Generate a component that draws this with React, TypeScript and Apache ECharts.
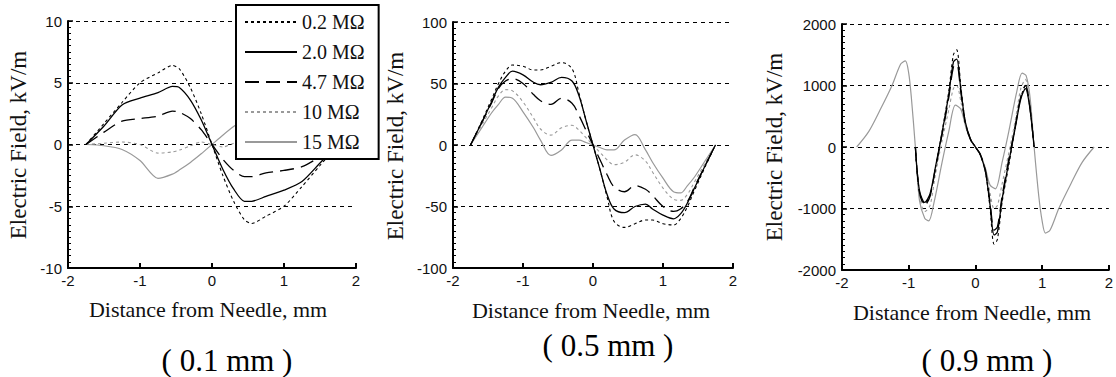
import React, { useEffect, useRef } from "react";
import * as echarts from "echarts";

// ---------- Panel 1: 0.1 mm ----------
const X1 = [-1.75, -1.5, -1.25, -1.0, -0.75, -0.55, -0.45, -0.3, -0.15, 0, 0.15, 0.3, 0.45, 0.55, 0.75, 1.0, 1.25, 1.5, 1.75];
const P1_R02 = [0, 1.7, 3.4, 5.0, 5.8, 6.4, 6.1, 4.6, 2.5, 0, -2.5, -4.6, -6.1, -6.4, -5.8, -5.0, -3.4, -1.7, 0];
const P1_R20 = [0, 1.5, 3.2, 3.75, 4.2, 4.7, 4.6, 3.6, 2.0, 0, -2.0, -3.6, -4.6, -4.6, -4.2, -3.7, -3.0, -1.5, 0];
const P1_R47 = [0, 1.0, 1.9, 2.1, 2.3, 2.7, 2.6, 2.1, 1.2, 0, -1.2, -2.1, -2.6, -2.6, -2.3, -2.1, -1.8, -1.0, 0];
const P1_R10 = [0, 0.1, 0.2, 0.0, -0.7, -0.6, -0.45, -0.1, 0.2, 0, -0.2, 0.1, 0.45, 0.6, 0.7, 0.0, -0.2, -0.1, 0];
const P1_R15 = [0, -0.1, -0.4, -1.3, -2.75, -2.4, -2.05, -1.45, -0.75, 0, 0.75, 1.45, 2.05, 2.4, 2.75, 1.3, 0.4, 0.1, 0];

// ---------- Panel 2: 0.5 mm ----------
const X2 = [-1.75, -1.6, -1.45, -1.35, -1.25, -1.15, -1.0, -0.85, -0.75, -0.6, -0.45, -0.3, -0.2, -0.1, 0, 0.1, 0.2, 0.3, 0.45, 0.6, 0.75, 0.85, 1.0, 1.15, 1.25, 1.35, 1.45, 1.6, 1.75];
const P2_R02 = [0, 18, 37, 50, 60, 65, 64, 61, 61, 64, 67, 62, 42, 20, 0, -20, -42, -62, -67, -64, -61, -61, -64, -65, -60, -50, -37, -18, 0];
const P2_R20 = [0, 17, 35, 47, 55, 60, 57, 51, 49, 51, 55, 52, 40, 20, 0, -20, -40, -52, -55, -50, -48, -52, -57, -60, -56, -47, -35, -17, 0];
const P2_R47 = [0, 17, 34, 46, 52, 54, 50, 41, 36, 33, 38, 34, 24, 12, 0, -12, -24, -34, -38, -33, -36, -41, -50, -54, -52, -46, -34, -17, 0];
const P2_R10 = [0, 15, 30, 40, 45, 44, 35, 22, 13, 8, 14, 16, 12, 6, 0, -6, -12, -16, -14, -8, -13, -22, -35, -44, -45, -40, -30, -15, 0];
const P2_R15 = [0, 13, 26, 33, 39, 38, 27, 14, 4, -8.5, -4, 4, 4, 2, 0, -2, -4, -4, 4, 8.5, -4, -14, -27, -38, -39, -33, -26, -13, 0];

// ---------- Panel 3: 0.9 mm ----------
const X3 = [-0.9, -0.84, -0.76, -0.68, -0.6, -0.5, -0.4, -0.33, -0.28, -0.22, -0.15, -0.07, 0, 0.07, 0.15, 0.22, 0.28, 0.33, 0.4, 0.5, 0.6, 0.68, 0.75, 0.81, 0.88];
const P3_R02 = [0, -720, -920, -780, -350, 250, 900, 1500, 1580, 1000, 400, 120, 0, -120, -400, -1000, -1580, -1500, -900, -300, 350, 800, 1000, 700, 0];
const P3_R20 = [0, -700, -900, -760, -330, 230, 850, 1380, 1430, 950, 400, 120, 0, -120, -400, -950, -1430, -1380, -850, -250, 330, 780, 950, 680, 0];
const P3_R47 = [0, -730, -950, -800, -350, 200, 800, 1300, 1350, 900, 380, 110, 0, -110, -380, -900, -1350, -1300, -800, -200, 350, 820, 1000, 700, 0];
const P3_R10 = [0, -780, -1050, -950, -450, 100, 600, 950, 1000, 750, 350, 110, 0, -110, -350, -750, -1000, -950, -600, -100, 450, 950, 1100, 760, 0];
const X3G = [-1.78, -1.6, -1.43, -1.25, -1.12, -1.05, -1.0, -0.96, -0.9, -0.84, -0.76, -0.7, -0.62, -0.5, -0.4, -0.3, -0.22, -0.15, -0.07, 0, 0.07, 0.15, 0.22, 0.3, 0.4, 0.5, 0.62, 0.7, 0.76, 0.82, 0.88, 0.95, 1.0, 1.05, 1.12, 1.25, 1.43, 1.6, 1.78];
const P3_R15 = [0, 250, 600, 1000, 1350, 1400, 1200, 800, 0, -860, -1160, -1200, -900, -250, 250, 680, 620, 350, 110, 0, -110, -350, -620, -680, -250, 250, 900, 1200, 1160, 800, 0, -800, -1200, -1400, -1350, -1000, -600, -250, 0];

const NAMES = ["0.2 MΩ", "2.0 MΩ", "4.7 MΩ", "10 MΩ", "15 MΩ"];
const Y_RANGES = [
  { min: -10, max: 10, interval: 5 },
  { min: -100, max: 100, interval: 50 },
  { min: -2000, max: 2000, interval: 1000 },
];
const CAPTIONS = ["( 0.1 mm )", "( 0.5 mm )", "( 0.9 mm )"];
const X_TITLE = "Distance from Needle, mm";
const Y_TITLE = "Electric Field, kV/m";

const STYLES: Record<string, any> = {
  "0.2 MΩ": { color: "#000", width: 1.1, type: [3, 3] },
  "2.0 MΩ": { color: "#000", width: 1.3, type: "solid" },
  "4.7 MΩ": { color: "#000", width: 1.3, type: [14, 7] },
  "10 MΩ": { color: "#9a9a9a", width: 1.1, type: [3, 3] },
  "15 MΩ": { color: "#999", width: 1.2, type: "solid" },
};

const pair = (xs: number[], ys: number[]) => xs.map((x, i) => [x, ys[i]]);

const PANELS = [
  { data: { "0.2 MΩ": pair(X1, P1_R02), "2.0 MΩ": pair(X1, P1_R20), "4.7 MΩ": pair(X1, P1_R47), "10 MΩ": pair(X1, P1_R10), "15 MΩ": pair(X1, P1_R15) }, smooth: 0.25 },
  { data: { "0.2 MΩ": pair(X2, P2_R02), "2.0 MΩ": pair(X2, P2_R20), "4.7 MΩ": pair(X2, P2_R47), "10 MΩ": pair(X2, P2_R10), "15 MΩ": pair(X2, P2_R15) }, smooth: 0.35 },
  { data: { "0.2 MΩ": pair(X3, P3_R02), "2.0 MΩ": pair(X3, P3_R20), "4.7 MΩ": pair(X3, P3_R47), "10 MΩ": pair(X3, P3_R10), "15 MΩ": pair(X3G, P3_R15) }, smooth: 0.3 },
];

const GRIDS = [
  { left: 68, top: 21, width: 288, height: 247 },
  { left: 453, top: 22, width: 280, height: 246 },
  { left: 842, top: 24, width: 269, height: 246 },
];

const TITLE_POS = [
  { xName: [208, 309], yName: [18, 145], cap: [227, 360] },
  { xName: [591, 310], yName: [395, 146], cap: [608, 345] },
  { xName: [972, 312], yName: [774, 147], cap: [987, 360] },
];

const TICK_COLOR = "#000";

export default function App() {
  const ref = useRef<HTMLDivElement>(null);
  useEffect(() => {
    document.body.style.margin = "0";
    const chart = echarts.init(ref.current!, null, { renderer: "svg" });
    const drawOrder = ["15 MΩ", "10 MΩ", "4.7 MΩ", "2.0 MΩ", "0.2 MΩ"];
    const series: any[] = [];
    PANELS.forEach((p, pi) => {
      drawOrder.forEach((n) => {
        series.push({
          type: "line",
          name: n,
          xAxisIndex: pi,
          yAxisIndex: pi,
          data: (p.data as any)[n],
          showSymbol: false,
          symbol: "none",
          smooth: p.smooth,
          lineStyle: STYLES[n],
          itemStyle: { color: STYLES[n].color },
          z: 2,
        });
      });
    });
    const labelStyle = { fontFamily: "Liberation Sans", fontSize: 15, color: "#111", formatter: (v: number) => String(v) };
    const graphic: any[] = [];
    TITLE_POS.forEach((t, i) => {
      graphic.push({
        type: "text", x: t.xName[0], y: t.xName[1],
        style: { text: X_TITLE, fontFamily: "Liberation Serif", fontSize: 22, fill: "#111", align: "center", verticalAlign: "middle" },
      });
      graphic.push({
        type: "text", x: t.yName[0], y: t.yName[1], rotation: Math.PI / 2,
        style: { text: Y_TITLE, fontFamily: "Liberation Serif", fontSize: 23, fill: "#111", align: "center", verticalAlign: "middle" },
      });
      graphic.push({
        type: "text", x: t.cap[0], y: t.cap[1],
        style: { text: CAPTIONS[i], fontFamily: "Liberation Serif", fontSize: 31, fill: "#000", align: "center", verticalAlign: "middle" },
      });
    });
    chart.setOption({
      animation: false,
      backgroundColor: "#fff",
      grid: GRIDS.map((g) => ({ ...g })),
      legend: {
        data: NAMES,
        orient: "vertical",
        left: 236,
        top: 5,
        itemWidth: 52,
        itemHeight: 20,
        itemGap: 10,
        padding: [7, 14, 7, 8],
        backgroundColor: "#fff",
        borderColor: "#000",
        borderWidth: 2,
        borderRadius: 0,
        itemStyle: { opacity: 0 },
        textStyle: { fontFamily: "Liberation Serif", fontSize: 20, color: "#111" },
        selectedMode: false,
        z: 10,
      },
      xAxis: GRIDS.map((_, i) => ({
        gridIndex: i,
        type: "value",
        min: -2,
        max: 2,
        interval: 1,
        axisLine: { show: true, onZero: false, lineStyle: { color: "#000", width: 2 } },
        axisTick: { show: true, inside: true, length: 5, lineStyle: { color: TICK_COLOR, width: 2 } },
        axisLabel: { ...labelStyle, margin: 5 },
        splitLine: { show: false },
      })),
      yAxis: Y_RANGES.map((r, i) => ({
        gridIndex: i,
        type: "value",
        min: r.min,
        max: r.max,
        interval: r.interval,
        axisLine: { show: true, onZero: false, lineStyle: { color: "#000", width: 2 } },
        axisTick: { show: true, inside: true, length: 5, lineStyle: { color: TICK_COLOR, width: 1.5 } },
        minorTick: { show: true, splitNumber: 10, length: 3, lineStyle: { color: TICK_COLOR, width: 1 } },
        axisLabel: { ...labelStyle, margin: 6 },
        splitLine: { show: true, lineStyle: { color: "#000", type: [4, 4], width: 1 } },
      })),
      series,
      graphic,
    });
    return () => chart.dispose();
  }, []);
  return <div ref={ref} style={{ width: 1116, height: 377 }} />;
}
